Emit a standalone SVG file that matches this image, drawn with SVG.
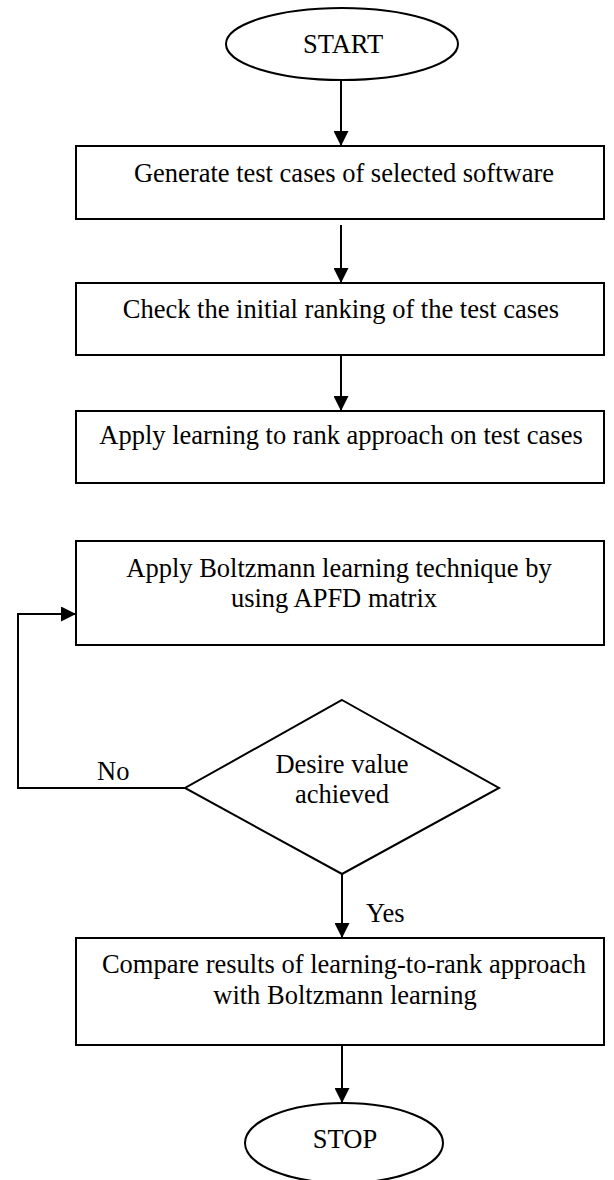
<svg xmlns="http://www.w3.org/2000/svg" width="614" height="1180" viewBox="0 0 614 1180">
<style>
.box{fill:#fff;stroke:#000;stroke-width:2}
.shape{fill:#fff;stroke:#000;stroke-width:2}
.t{font-family:"Liberation Serif","Times New Roman",serif;font-size:26.5px;fill:#000;text-anchor:middle}
.lbl{font-family:"Liberation Serif","Times New Roman",serif;font-size:26.5px;fill:#000}
.c{fill:none;stroke:#000;stroke-width:2}
</style>
<defs>
<marker id="arr" markerUnits="userSpaceOnUse" markerWidth="15" markerHeight="15" refX="15" refY="7.5" orient="auto">
<path d="M0,0 L15,7.5 L0,15 z" fill="#000"/>
</marker>
</defs>
<rect width="614" height="1180" fill="#fff"/>
<g id="start">
<ellipse class="shape" cx="342" cy="44" rx="116" ry="36"/>
<text class="t" x="343" y="53">START</text>
</g>
<g id="generate">
<rect class="box" x="76" y="146" width="528" height="73"/>
<text class="t" x="344" y="182">Generate test cases of selected software</text>
</g>
<g id="check">
<rect class="box" x="76" y="283" width="528" height="72"/>
<text class="t" x="341" y="318">Check the initial ranking of the test cases</text>
</g>
<g id="apply-ltr">
<rect class="box" x="76" y="411" width="528" height="72"/>
<text class="t" x="341" y="444">Apply learning to rank approach on test cases</text>
</g>
<g id="boltzmann">
<rect class="box" x="76" y="541" width="528" height="104"/>
<text class="t" x="339" y="577">Apply Boltzmann learning technique by</text>
<text class="t" x="334" y="607">using APFD matrix</text>
</g>
<g id="decision">
<polygon class="shape" points="342,700 499,788 342,874 185,788"/>
<text class="t" x="342" y="773">Desire value</text>
<text class="t" x="342" y="803">achieved</text>
</g>
<g id="compare">
<rect class="box" x="76" y="938" width="528" height="107"/>
<text class="t" x="344" y="973">Compare results of learning-to-rank approach</text>
<text class="t" x="345" y="1004">with Boltzmann learning</text>
</g>
<g id="stop">
<ellipse class="shape" cx="344" cy="1143" rx="99" ry="40"/>
<text class="t" x="345" y="1148">STOP</text>
</g>
<g id="connectors">
<line class="c" x1="341" y1="80" x2="341" y2="146" marker-end="url(#arr)"/>
<line class="c" x1="341" y1="225" x2="341" y2="283" marker-end="url(#arr)"/>
<line class="c" x1="341" y1="355" x2="341" y2="411" marker-end="url(#arr)"/>
<polyline class="c" points="185,788 18,788 18,614 76,614" marker-end="url(#arr)"/>
<line class="c" x1="342" y1="874" x2="342" y2="938" marker-end="url(#arr)"/>
<line class="c" x1="342" y1="1045" x2="342" y2="1103" marker-end="url(#arr)"/>
<text class="lbl" x="97" y="780">No</text>
<text class="lbl" x="366" y="922">Yes</text>
</g>
</svg>
